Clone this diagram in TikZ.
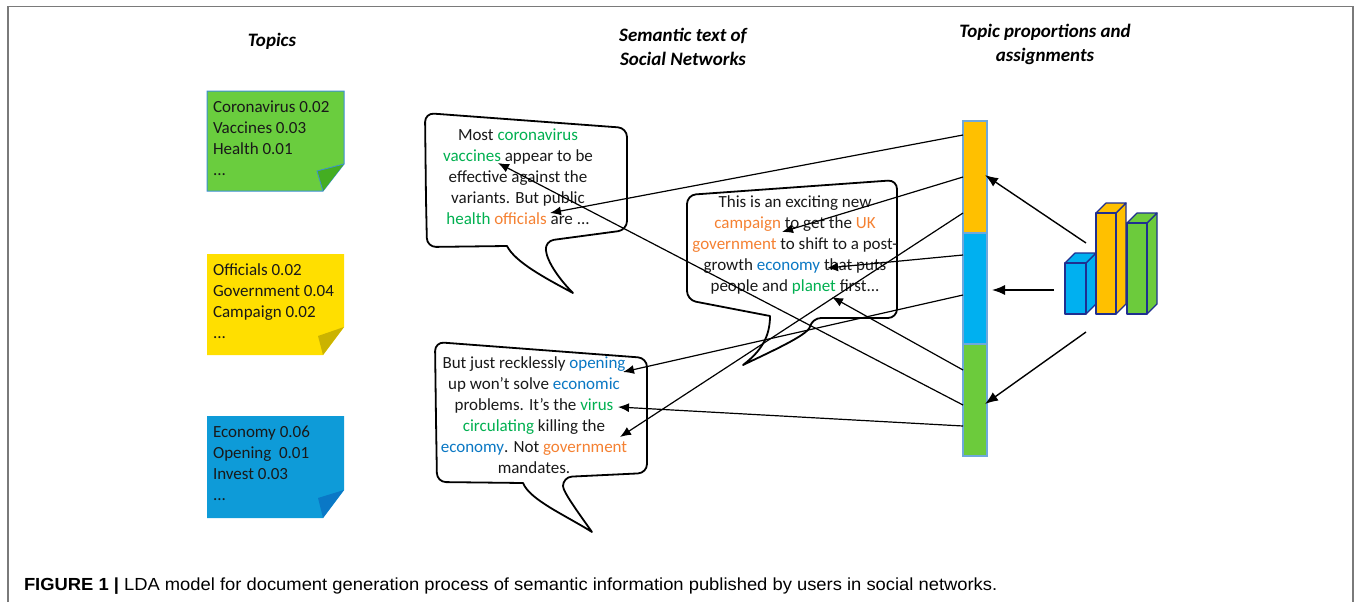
\documentclass[tikz,border=0pt]{standalone}
\usepackage{fontspec}
\setmainfont{Carlito}
\newfontfamily\capfont{Liberation Sans}
\usetikzlibrary{arrows.meta}

\definecolor{notegreen}{HTML}{6ACD3E}
\definecolor{foldgreen}{HTML}{44AE22}
\definecolor{noteyellow}{HTML}{FFDF00}
\definecolor{foldyellow}{HTML}{CBB300}
\definecolor{noteblue}{HTML}{0E9BD8}
\definecolor{foldblue}{HTML}{0A78C6}
\definecolor{noteedge}{HTML}{3D8FD6}
\definecolor{barorange}{HTML}{FFC000}
\definecolor{barblue}{HTML}{00B0F0}
\definecolor{bargreen}{HTML}{6CCB3C}
\definecolor{baredge}{HTML}{6FA8DC}
\definecolor{chartedge}{HTML}{1F2F90}
\definecolor{wgreen}{HTML}{00B050}
\definecolor{worange}{HTML}{F58132}
\definecolor{wblue}{HTML}{0A78C4}
\definecolor{framegray}{HTML}{7A7A7A}

\newcommand\kwg[1]{\textcolor{wgreen}{#1}}
\newcommand\kwo[1]{\textcolor{worange}{#1}}
\newcommand\kwb[1]{\textcolor{wblue}{#1}}

\begin{document}
\begin{tikzpicture}[x=1pt,y=-1pt,
  every node/.style={inner sep=0pt,outer sep=0pt},
  heading/.style={font=\fontsize{19}{24}\selectfont\bfseries\itshape,align=center},
  notetext/.style={font=\fontsize{17}{21}\selectfont,align=left,anchor=west,text=black!90},
  bubbletext/.style={font=\fontsize{17}{21}\selectfont,align=center,text=black!90},
  bubble/.style={draw=black,line width=1.8pt,fill=white,line join=round},
  barseg/.style={draw=baredge,line width=1.4pt,minimum width=24pt},
  face/.style={draw=chartedge,line width=1.2pt,line join=round},
  link/.style={draw=black,line width=1.2pt,-{Latex[length=11pt,width=9pt]}},
  bigarrow/.style={draw=black,line width=1.4pt,-{Latex[length=13pt,width=10pt]}}
]
\useasboundingbox (0,0) rectangle (1356,602);

% page frame
\draw[framegray,line width=1.5pt] (8,602) -- (8,6.5) -- (1353,6.5) -- (1353,602);

% column headings
\node[heading] (h-topics) at (272,41) {Topics};
\node[heading] (h-sem) at (683,47) {Semantic text of\\Social Networks};
\node[heading] (h-prop) at (1045,44) {Topic proportions and\\assignments};

% topic sticky notes
\fill[notegreen] (207,91) -- (344,91) -- (344,164) -- (323,191) -- (207,191) -- cycle;
\draw[noteedge,line width=1pt] (207,91) -- (344,91) -- (344,164) -- (323,191) -- (207,191) -- cycle;
\fill[foldgreen] (344,164) -- (317,171) -- (323,191) -- cycle;
\draw[noteedge,line width=0.8pt] (344,164) -- (317,171) -- (323,191);
\node[notetext] (n-green) at (213,138) {Coronavirus 0.02\\Vaccines 0.03\\Health 0.01\\...};

\fill[noteyellow] (207,254) -- (344,254) -- (344,327) -- (323,355) -- (207,355) -- cycle;
\fill[foldyellow] (344,327) -- (318,336) -- (323,355) -- cycle;
\node[notetext] (n-yellow) at (213,301) {Officials 0.02\\Government 0.04\\Campaign 0.02\\...};

\fill[noteblue] (207,416) -- (344,416) -- (344,490) -- (323,518) -- (207,518) -- cycle;
\fill[foldblue] (344,490) -- (318,498) -- (323,518) -- cycle;
\node[notetext] (n-blue) at (213,463) {Economy 0.06\\Opening~ 0.01\\Invest 0.03\\...};

% speech bubbles
\draw[bubble,rounded corners=9pt] (426,200) -- (425,113) -- (627,128) -- (627,230) -- (545,241)
  [sharp corners] .. controls (547,262) and (560,280) .. (573,293)
  .. controls (545,278) and (515,262) .. (507,246)
  [rounded corners=9pt] -- (427,247) -- cycle;
\draw[bubble,rounded corners=9pt] (687,250) -- (687,195) -- (897,180) -- (897,318) -- (812,318)
  [sharp corners] .. controls (808,335) and (770,352) .. (743,365)
  .. controls (760,352) and (770,338) .. (770,316)
  [rounded corners=9pt] -- (687,300) -- cycle;
\draw[bubble,rounded corners=9pt] (436,420) -- (435,342) -- (647,358) -- (647,473) -- (563,477)
  [sharp corners] .. controls (563,492) and (580,515) .. (592,532)
  .. controls (565,515) and (530,500) .. (523,483)
  [rounded corners=9pt] -- (437,482) -- cycle;

\node[bubbletext] (txt-a) at (518,176.5) {Most \kwg{coronavirus}\\
  \kwg{vaccines} appear to be\\
  effective against the\\
  variants. But public\\
  \kwg{health} \kwo{officials} are ...};
\node[bubbletext] (txt-b) at (795,245) {This is an exciting new\\
  \kwo{campaign} to get the \kwo{UK}\\
  \kwo{government} to shift to a post-\\
  growth \kwb{economy} that puts\\
  people and \kwg{planet} first...};
\node[bubbletext] (txt-c) at (534,415) {But just recklessly \kwb{opening}\\
  up won’t solve \kwb{economic}\\
  problems. It’s the \kwg{virus}\\
  \kwg{circulating} killing the\\
  \kwb{economy}. Not \kwo{government}\\
  mandates.};

% topic assignment bar
\node[barseg,fill=barorange,minimum height=112pt] (seg-o) at (975,177) {};
\node[barseg,fill=barblue,minimum height=111pt] (seg-b) at (975,288.5) {};
\node[barseg,fill=bargreen,minimum height=112pt] (seg-g) at (975,400) {};

% topic proportion chart
\filldraw[face,fill=barblue] (1086,263) -- (1096,253) -- (1096,304) -- (1086,314) -- cycle;
\filldraw[face,fill=barblue] (1065,263) -- (1075,253) -- (1096,253) -- (1086,263) -- cycle;
\filldraw[face,fill=barblue] (1065,263) rectangle (1086,314);
\filldraw[face,fill=barorange] (1116,213) -- (1126,203) -- (1126,304) -- (1116,314) -- cycle;
\filldraw[face,fill=barorange] (1096,213) -- (1106,203) -- (1126,203) -- (1116,213) -- cycle;
\filldraw[face,fill=barorange] (1096,213) rectangle (1116,314);
\filldraw[face,fill=bargreen] (1147,223) -- (1157,213) -- (1157,304) -- (1147,314) -- cycle;
\filldraw[face,fill=bargreen] (1127,223) -- (1137,213) -- (1157,213) -- (1147,223) -- cycle;
\filldraw[face,fill=bargreen] (1127,223) rectangle (1147,314);

% word positions
\coordinate (w-off) at (550,213);
\coordinate (w-camp) at (782,232);
\coordinate (w-gov) at (620,437);
\coordinate (w-econ) at (827,268);
\coordinate (w-open) at (623,372);
\coordinate (w-virus) at (618,407);
\coordinate (w-vacc) at (498,163);
\coordinate (w-planet) at (832,297);

% bar attachment points
\coordinate (o1) at (963,135);
\coordinate (o2) at (963,177);
\coordinate (o3) at (963,213);
\coordinate (b1) at (963,255);
\coordinate (b2) at (963,295);
\coordinate (g1) at (963,370);
\coordinate (g2) at (963,405);
\coordinate (g3) at (963,426);

\draw[link] (o1) -- (w-off);
\draw[link] (o2) -- (w-camp);
\draw[link] (o3) -- (w-gov);
\draw[link] (b1) -- (w-econ);
\draw[link] (b2) -- (w-open);
\draw[link] (g1) -- (w-planet);
\draw[link] (g2) -- (w-vacc);
\draw[link] (g3) -- (w-virus);

% chart to bar
\coordinate (c-top) at (1086,243);
\coordinate (c-mid) at (1054,290);
\coordinate (c-bot) at (1086,332);
\coordinate (s-top) at (985,175);
\coordinate (s-mid) at (992,290);
\coordinate (s-bot) at (985,404);
\draw[bigarrow] (c-top) -- (s-top);
\draw[bigarrow] (c-mid) -- (s-mid);
\draw[bigarrow] (c-bot) -- (s-bot);

% caption
\node[anchor=base west,font=\capfont\fontsize{17.5}{20}\selectfont] (caption) at (24,590)
  {\scalebox{1.05}[1]{\textbf{FIGURE 1 |} LDA model for document generation process of semantic information published by users in social networks.}};
\end{tikzpicture}
\end{document}
